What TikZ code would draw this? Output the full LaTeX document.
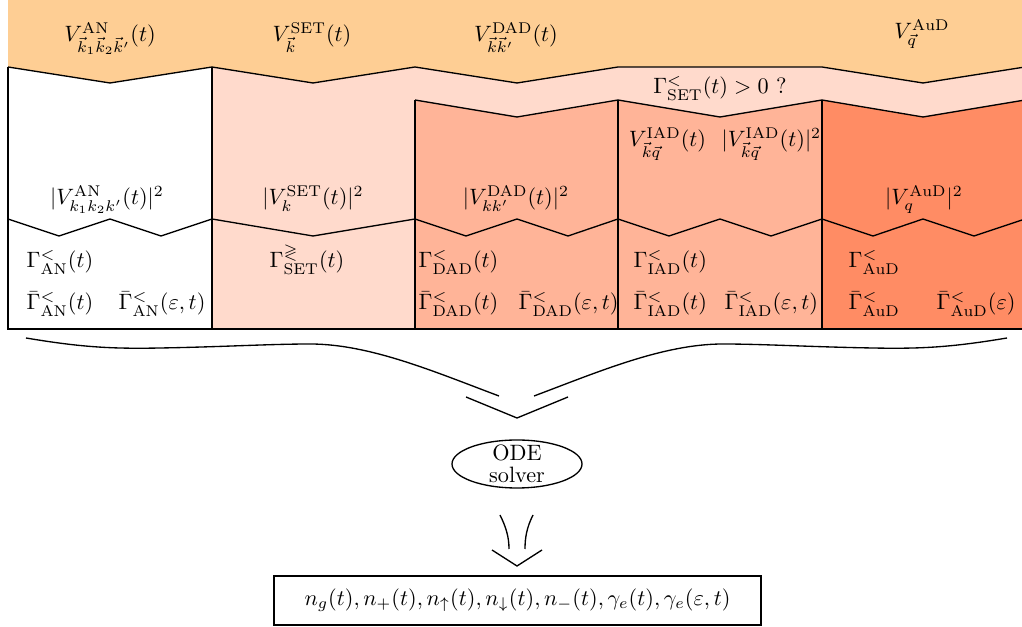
\documentclass[tikz,border=0pt]{standalone}
\usepackage{amsmath,amssymb}
\usetikzlibrary{shapes.geometric}
\definecolor{bandorange}{RGB}{254,206,148}
\definecolor{setpink}{RGB}{255,218,204}
\definecolor{dadsalmon}{RGB}{255,180,152}
\definecolor{audorange}{RGB}{255,140,100}
\begin{document}
\begin{tikzpicture}[x=0.45pt,y=-0.45pt, line width=0.6pt,
  lbl/.style={inner sep=0pt, anchor=base},
  lbll/.style={inner sep=0pt, anchor=base west}]
\clip (0,0) rectangle (1022,627);
% ---------- fills
\fill[bandorange] (8,0) -- (1030,0) -- (1030,67) -- (1025,67) -- (923,83) -- (822,67) -- (618,67) -- (517,83) -- (415,67) -- (313,83) -- (212,67) -- (110,83) -- (8,67) -- cycle;
\fill[setpink] (212,67) -- (313,83) -- (415,67) -- (517,83) -- (618,67) -- (822,67) -- (923,83) -- (1025,67) -- (1030,67) -- (1030,329) -- (212,329) -- cycle;
\fill[dadsalmon] (415,100) -- (517,117) -- (618,100) -- (720,117) -- (822,100) -- (822,329) -- (415,329) -- cycle;
\fill[audorange] (822,100) -- (923,117) -- (1025,100) -- (1030,100) -- (1030,329) -- (822,329) -- cycle;
% ---------- lines
\draw (8,67) -- (110,83) -- (212,67) -- (313,83) -- (415,67) -- (517,83) -- (618,67) -- (822,67) -- (923,83) -- (1025,67);
\draw (415,100) -- (517,117) -- (618,100) -- (720,117) -- (822,100) -- (923,117) -- (1025,100);
\draw (8,219) -- (59,236) -- (110,219) -- (161,236) -- (212,219) -- (313,236) -- (415,219) -- (466,236) -- (517,219) -- (568,236) -- (618,219) -- (669,236) -- (720,219) -- (771,236) -- (822,219) -- (873,236) -- (923,219) -- (974,236) -- (1025,219);
\draw (8,67) -- (8,329) -- (1025,329);
\draw (212,67) -- (212,329);
\draw (415,100) -- (415,329);
\draw (618,100) -- (618,329);
\draw (822,100) -- (822,329);
% ---------- top band labels
\node[lbl] (vAN) at (110,42) {$V^{\mathrm{AN}}_{\vec{k}_1\vec{k}_2\vec{k}'}(t)$};
\node[lbl] (vSET) at (312,42) {$V^{\mathrm{SET}}_{\vec{k}}(t)$};
\node[lbl] (vDAD) at (516,42) {$V^{\mathrm{DAD}}_{\vec{k}\vec{k}'}(t)$};
\node[lbl] (vAuD) at (922,39) {$V^{\mathrm{AuD}}_{\vec{q}}$};
\node[lbl] (gSETpos) at (720,94) {$\Gamma^{<}_{\mathrm{SET}}(t)>0$ ?};
\node[lbl] (vIAD) at (725,147) {$V^{\mathrm{IAD}}_{\vec{k}\vec{q}}(t)$\hspace{7pt}$|V^{\mathrm{IAD}}_{\vec{k}\vec{q}}(t)|^2$};
% ---------- squared couplings
\node[lbl] (sAN) at (107,205) {$|V^{\mathrm{AN}}_{k_1k_2k'}(t)|^2$};
\node[lbl] (sSET) at (313,205) {$|V^{\mathrm{SET}}_{k}(t)|^2$};
\node[lbl] (sDAD) at (516,205) {$|V^{\mathrm{DAD}}_{kk'}(t)|^2$};
\node[lbl] (sAuD) at (924,205) {$|V^{\mathrm{AuD}}_{q}|^2$};
% ---------- rates row 1
\node[lbll] (rAN) at (26,268) {$\Gamma^{<}_{\mathrm{AN}}(t)$};
\node[lbl] (rSET) at (307,268) {$\Gamma^{\gtrless}_{\mathrm{SET}}(t)$};
\node[lbll] (rDAD) at (418,268) {$\Gamma^{<}_{\mathrm{DAD}}(t)$};
\node[lbll] (rIAD) at (633,268) {$\Gamma^{<}_{\mathrm{IAD}}(t)$};
\node[lbll] (rAuD) at (848,268) {$\Gamma^{<}_{\mathrm{AuD}}$};
% ---------- rates row 2
\node[lbll] (bAN) at (26,310) {$\bar\Gamma^{<}_{\mathrm{AN}}(t)$};
\node[lbll] (beAN) at (118,310) {$\bar\Gamma^{<}_{\mathrm{AN}}(\varepsilon,t)$};
\node[lbll] (bDAD) at (418,310) {$\bar\Gamma^{<}_{\mathrm{DAD}}(t)$};
\node[lbll] (beDAD) at (518,310) {$\bar\Gamma^{<}_{\mathrm{DAD}}(\varepsilon,t)$};
\node[lbll] (bIAD) at (633,310) {$\bar\Gamma^{<}_{\mathrm{IAD}}(t)$};
\node[lbll] (beIAD) at (724,310) {$\bar\Gamma^{<}_{\mathrm{IAD}}(\varepsilon,t)$};
\node[lbll] (bAuD) at (848,310) {$\bar\Gamma^{<}_{\mathrm{AuD}}$};
\node[lbll] (beAuD) at (936,310) {$\bar\Gamma^{<}_{\mathrm{AuD}}(\varepsilon)$};
% ---------- big brace arrow
\draw (26,338) .. controls (80,347) and (110,349) .. (160,348) .. controls (220,347) and (270,344) .. (310,344) .. controls (370,344) and (435,372) .. (499,396);
\draw (1007,338) .. controls (953,347) and (923,349) .. (873,348) .. controls (813,347) and (763,344) .. (723,344) .. controls (663,344) and (598,372) .. (534,396);
\draw (466,397) -- (517,418) -- (568,397);
% ---------- ODE solver
\node[inner sep=0pt, align=center] (ode) at (517,464) {ODE\\[-2pt]solver};
\draw (ode.center) ellipse [x radius=65, y radius=24];
% ---------- small arrow
\draw (500,515) .. controls (506,527) and (509,537) .. (509,549);
\draw (533,515) .. controls (527,527) and (525,537) .. (525,549);
\draw (492,550) -- (517,566) -- (542,550);
% ---------- result
\node[draw, inner sep=0pt, minimum width=219.2pt, minimum height=22pt] (res) at (517.5,600.5) {$n_g(t), n_+(t), n_\uparrow(t), n_\downarrow(t), n_-(t), \gamma_e(t), \gamma_e(\varepsilon,t)$};
\end{tikzpicture}
\end{document}
